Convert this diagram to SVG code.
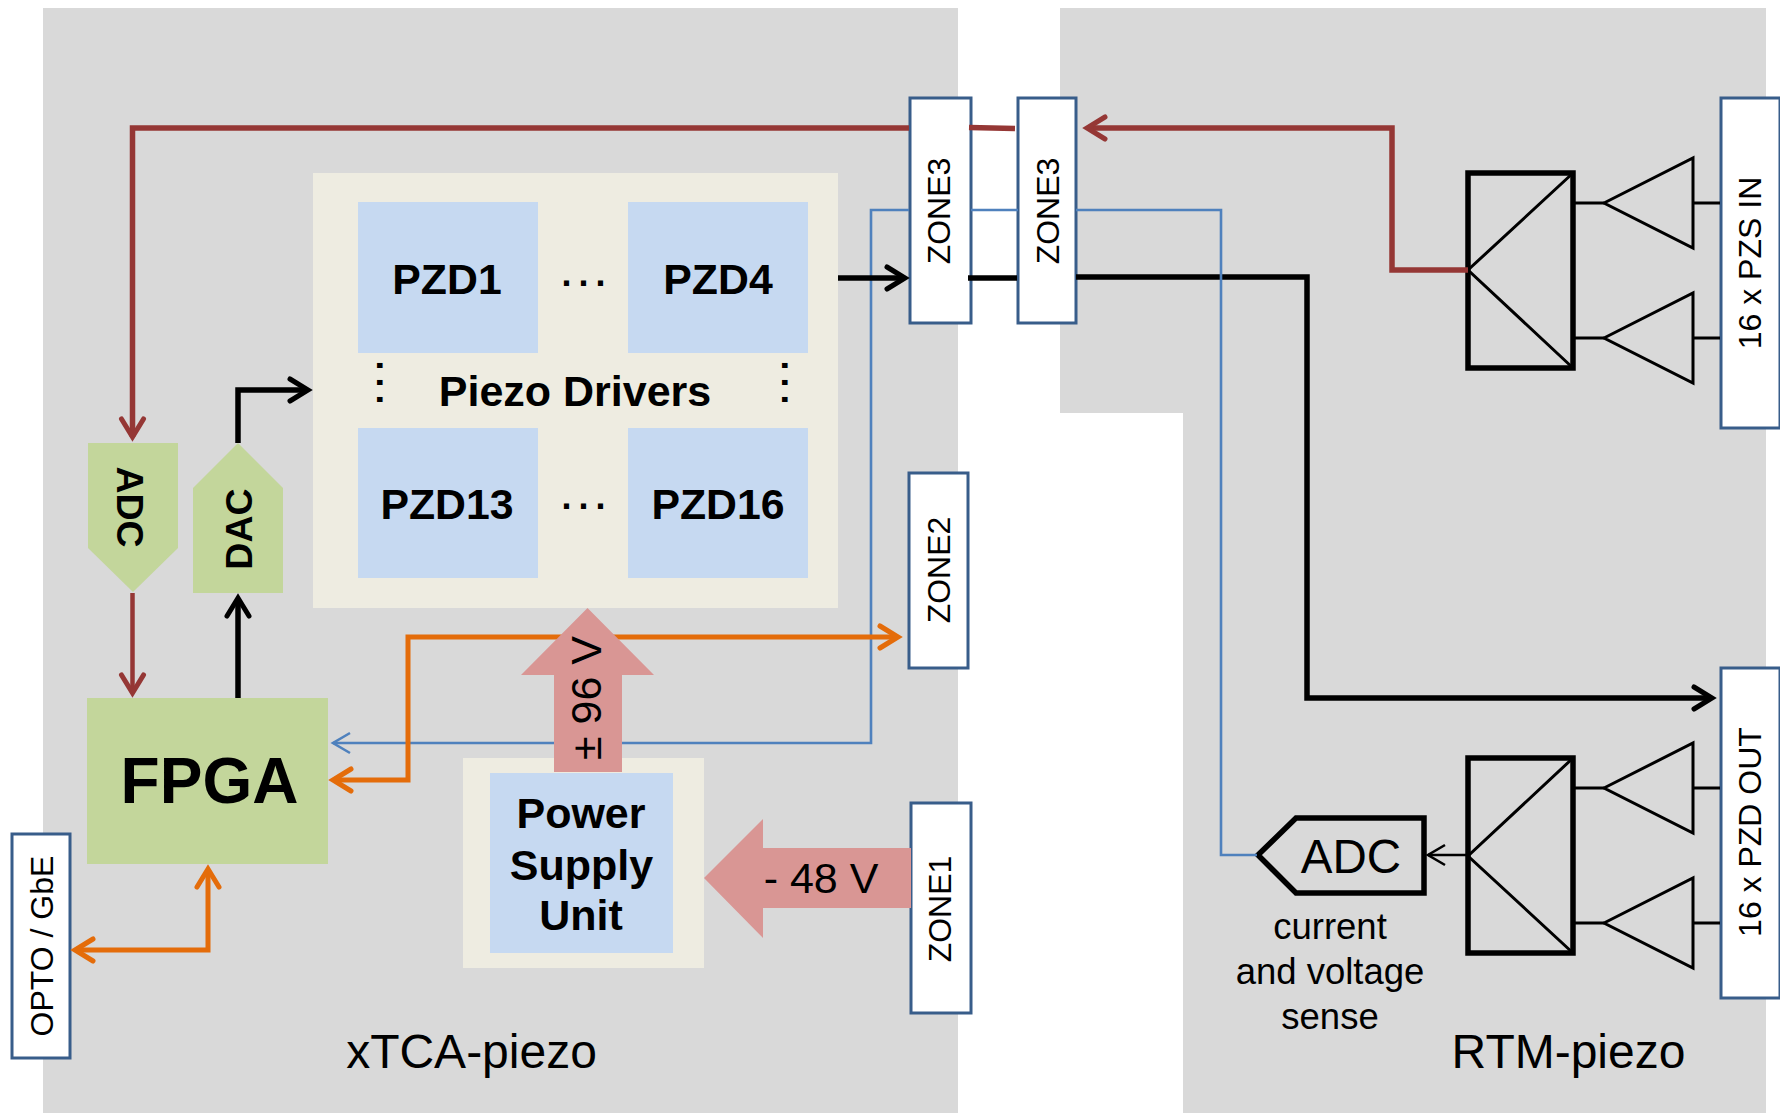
<svg xmlns="http://www.w3.org/2000/svg" width="1780" height="1114" viewBox="0 0 1780 1114">
<style>
text{font-family:"Liberation Sans",Arial,sans-serif;fill:#000;text-anchor:middle}
.b{font-weight:bold}
.panel{fill:#D9D9D9}
.cream{fill:#EEECE1}
.blue{fill:#C6D9F1}
.green{fill:#C3D69B}
.pink{fill:#D99694}
.port{fill:#fff;stroke:#385D8A;stroke-width:3}
.z{font-size:32px}
.pzd{font-size:42.800px;font-weight:bold}
.dots{font-size:36px;font-weight:bold;letter-spacing:7px}
.big{font-size:48px}
.snd{font-size:36.500px}
.w{font-size:43px}
.c{fill:none;stroke-linejoin:miter}
.red{stroke:#953735;stroke-width:5.500}
.blk{stroke:#000;stroke-width:5.500}
.org{stroke:#E46C0A;stroke-width:5}
.bl{stroke:#4F81BD;stroke-width:2.600}
.thin{stroke:#000;stroke-width:2.600}
.sp{fill:none;stroke:#000;stroke-width:5.500}
.ln{fill:none;stroke:#000;stroke-width:3}
</style>
<defs>
<marker id="mRed" markerUnits="userSpaceOnUse" markerWidth="50" markerHeight="50" viewBox="0 0 50 50" refX="30" refY="25" orient="auto-start-reverse" overflow="visible"><path d="M12,14 L30,25 L12,36" fill="none" stroke="#953735" stroke-width="5" stroke-linecap="round"/></marker>
<marker id="mBlk" markerUnits="userSpaceOnUse" markerWidth="50" markerHeight="50" viewBox="0 0 50 50" refX="30" refY="25" orient="auto-start-reverse" overflow="visible"><path d="M12,14 L30,25 L12,36" fill="none" stroke="#000" stroke-width="5" stroke-linecap="round"/></marker>
<marker id="mOrg" markerUnits="userSpaceOnUse" markerWidth="50" markerHeight="50" viewBox="0 0 50 50" refX="30" refY="25" orient="auto-start-reverse" overflow="visible"><path d="M12,14 L30,25 L12,36" fill="none" stroke="#E46C0A" stroke-width="5" stroke-linecap="round"/></marker>
<marker id="mBl" markerUnits="userSpaceOnUse" markerWidth="50" markerHeight="50" viewBox="0 0 50 50" refX="30" refY="25" orient="auto-start-reverse" overflow="visible"><path d="M13,15 L30,25 L13,35" fill="none" stroke="#4F81BD" stroke-width="2.600"/></marker>
<marker id="mThin" markerUnits="userSpaceOnUse" markerWidth="50" markerHeight="50" viewBox="0 0 50 50" refX="30" refY="25" orient="auto-start-reverse" overflow="visible"><path d="M13,15 L30,25 L13,35" fill="none" stroke="#000" stroke-width="2.600"/></marker>
</defs>

<g id="panel-xtca"><rect class="panel" x="43" y="8" width="915" height="1105"/><text class="big" x="471.500" y="1068">xTCA-piezo</text></g>
<g id="panel-rtm"><path class="panel" d="M1060,8 H1766 V1113 H1183 V413 H1060 Z"/><text class="big" x="1568.500" y="1068">RTM-piezo</text></g>

<g id="piezo-drivers">
<rect class="cream" x="313" y="173" width="525" height="435"/>
<text class="w b" x="575" y="406">Piezo Drivers</text>
<text class="dots" x="587" y="286">...</text>
<text class="dots" x="587" y="509">...</text>
<text class="dots" transform="translate(376.500,386) rotate(90)">...</text>
<text class="dots" transform="translate(781.500,386) rotate(90)">...</text>
</g>
<g id="pzd1"><rect class="blue" x="358" y="202" width="180" height="151"/><text class="pzd" x="447" y="294">PZD1</text></g>
<g id="pzd4"><rect class="blue" x="628" y="202" width="180" height="151"/><text class="pzd" x="718" y="294">PZD4</text></g>
<g id="pzd13"><rect class="blue" x="358" y="428" width="180" height="150"/><text class="pzd" x="447" y="519">PZD13</text></g>
<g id="pzd16"><rect class="blue" x="628" y="428" width="180" height="150"/><text class="pzd" x="718" y="519">PZD16</text></g>

<g id="adc-green"><polygon class="green" points="88,443 178,443 178,548 133,592 88,548"/><text class="b" style="font-size:37.500px" transform="translate(117,507) rotate(90)">ADC</text></g>
<g id="dac-green"><polygon class="green" points="238,443 283,488 283,593 193,593 193,488"/><text class="b" style="font-size:37.500px" transform="translate(252,529) rotate(-90)">DAC</text></g>
<g id="fpga"><rect class="green" x="87" y="698" width="241" height="166"/><text class="b" style="font-size:64px" x="209.500" y="803">FPGA</text></g>

<g id="psu"><rect class="cream" x="463" y="758" width="241" height="210"/><rect class="blue" x="490" y="773" width="183" height="180"/>
<text class="w b" x="581" y="828">Power</text><text class="w b" x="581.500" y="880">Supply</text><text class="w b" x="581" y="930">Unit</text></g>

<g id="zone1"><rect class="port" x="911" y="803" width="60" height="210"/><text class="z" transform="translate(951,909) rotate(-90)">ZONE1</text></g>
<g id="zone2"><rect class="port" x="909" y="473" width="59" height="195"/><text class="z" transform="translate(950,570) rotate(-90)">ZONE2</text></g>
<g id="zone3-left"><rect class="port" x="910" y="98" width="61" height="225"/><text class="z" transform="translate(950,211) rotate(-90)">ZONE3</text></g>
<g id="zone3-right"><rect class="port" x="1018" y="98" width="58" height="225"/><text class="z" transform="translate(1059,211) rotate(-90)">ZONE3</text></g>
<g id="opto"><rect class="port" x="12" y="834" width="58" height="224"/><text style="font-size:32px" transform="translate(53,946) rotate(-90)">OPTO / GbE</text></g>
<g id="pzs-in"><rect class="port" x="1721" y="98" width="59" height="330"/><text class="z" transform="translate(1761,263) rotate(-90)">16 x PZS IN</text></g>
<g id="pzd-out"><rect class="port" x="1721" y="668" width="59" height="330"/><text class="z" transform="translate(1761,832) rotate(-90)">16 x PZD OUT</text></g>

<g id="splitter-top"><rect class="sp" x="1468" y="173" width="105" height="195"/><path class="ln" d="M1573,173 L1468,270 L1573,368"/></g>
<g id="amp-top-1"><polygon class="ln" points="1604,203 1693,158 1693,248"/><path class="ln" d="M1573,203 H1604 M1693,203 H1720"/></g>
<g id="amp-top-2"><polygon class="ln" points="1604,338 1693,293 1693,383"/><path class="ln" d="M1573,338 H1604 M1693,338 H1720"/></g>
<g id="splitter-bottom"><rect class="sp" x="1468" y="758" width="105" height="195"/><path class="ln" d="M1573,758 L1468,856 L1573,953"/></g>
<g id="amp-bottom-1"><polygon class="ln" points="1604,788 1693,743 1693,833"/><path class="ln" d="M1573,788 H1604 M1693,788 H1720"/></g>
<g id="amp-bottom-2"><polygon class="ln" points="1604,923 1693,878 1693,968"/><path class="ln" d="M1573,923 H1604 M1693,923 H1720"/></g>
<g id="adc-sense"><polygon points="1258,855 1296,818 1424,818 1424,893 1296,893" fill="none" stroke="#000" stroke-width="5.500"/><text style="font-size:47.500px" x="1351" y="873">ADC</text>
<text class="snd" x="1330" y="939">current</text><text class="snd" x="1330" y="984">and voltage</text><text class="snd" x="1330" y="1029">sense</text></g>

<g id="connectors">
<path class="c bl" d="M909,210 H871 V743 H333" marker-end="url(#mBl)"/>
<path class="c blk" d="M838,278 H905" marker-end="url(#mBlk)"/>
<path class="c blk" d="M968,278 H1017"/>
<path class="c blk" d="M1076,277 H1307 V698 H1712" marker-end="url(#mBlk)"/>
<path class="c blk" d="M238,443 V390 H308" marker-end="url(#mBlk)"/>
<path class="c blk" d="M238,698 V598" marker-end="url(#mBlk)"/>
<path class="c bl" d="M971,210 H1018"/>
<path class="c bl" d="M1076,210 H1221 V855 H1257"/>
<path class="c thin" d="M1468,855 H1428" marker-end="url(#mThin)"/>
<path class="c red" d="M909,128 H132.500 V437" marker-end="url(#mRed)"/>
<path class="c red" d="M969,127.500 L1015,128.500"/>
<path class="c red" d="M1468,270 H1392 V128 H1087" marker-end="url(#mRed)"/>
<path class="c red" style="stroke-width:4.500" d="M132.500,593 V693" marker-end="url(#mRed)"/>
<path class="c org" d="M333,780 H408 V637 H898" marker-start="url(#mOrg)" marker-end="url(#mOrg)"/>
<path class="c org" d="M208,869 V950 H75" marker-start="url(#mOrg)" marker-end="url(#mOrg)"/>
</g>

<g id="arrow-96v"><polygon class="pink" points="587.500,608 654,675 622,675 622,772 554,772 554,675 521,675"/><text class="w" transform="translate(601,698) rotate(-90)">± 96 V</text></g>
<g id="arrow-48v"><polygon class="pink" points="704,878 763,819 763,848 911,848 911,908 763,908 763,938"/><text class="w" x="821" y="893">- 48 V</text></g>
</svg>
